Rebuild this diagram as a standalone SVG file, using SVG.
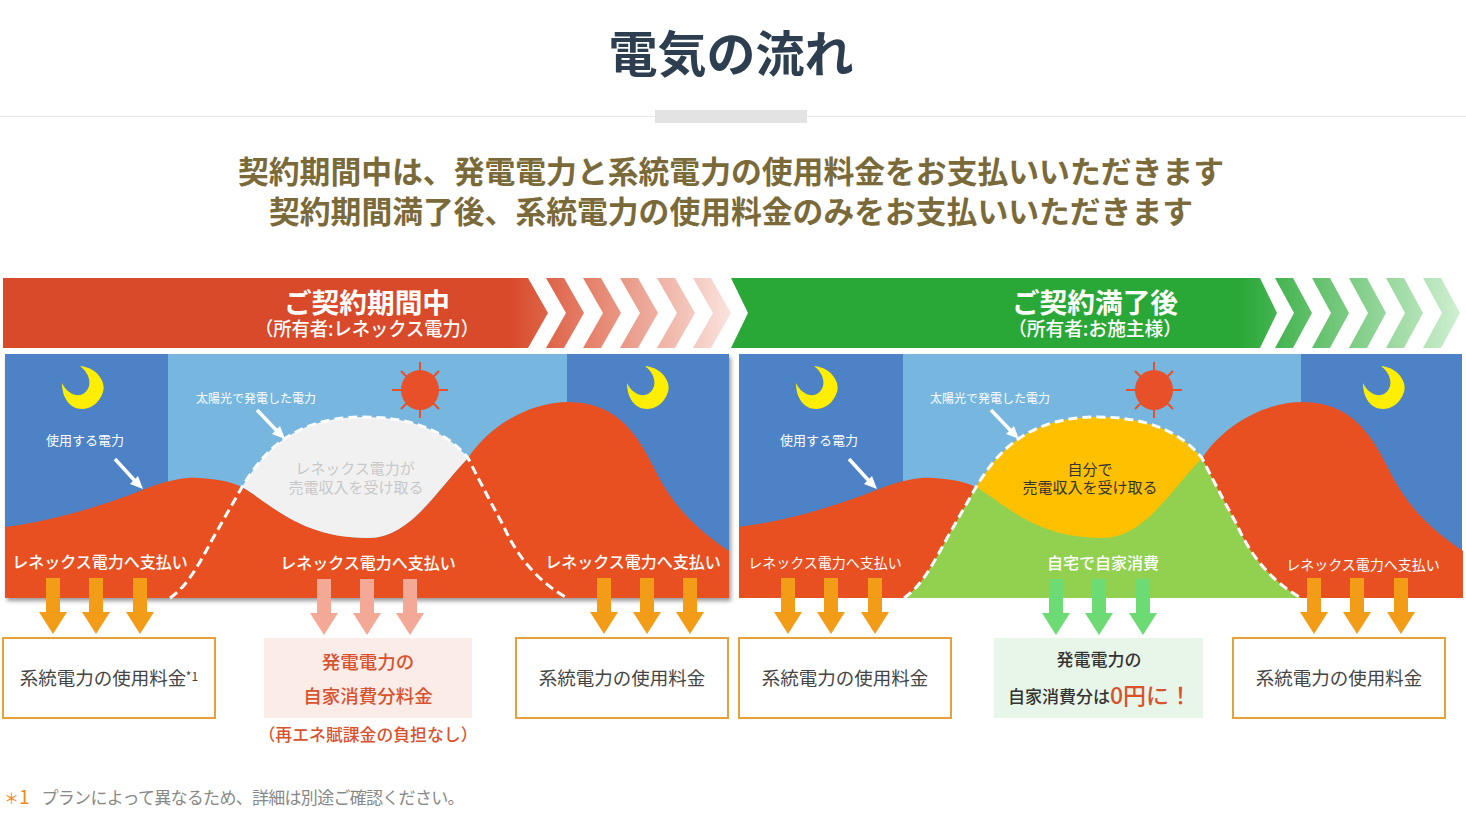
<svg xmlns="http://www.w3.org/2000/svg" width="1466" height="819" viewBox="0 0 1466 819">
<style>
text{font-family:"Noto Sans CJK JP","Noto Sans",sans-serif;text-anchor:middle}
.pay{fill:#fff;font-size:16px;font-weight:500}
.pay2{fill:#fff;font-size:14px}
.lab{fill:#fff;font-size:12px}
.lab2{fill:#fff;font-size:13px}
.fee{fill:#444;font-size:18.5px}
.box{fill:#fff;stroke:#e5a13c;stroke-width:2}
.dash{fill:none;stroke:#fff;stroke-width:3;stroke-dasharray:9 5}
.ban1{fill:#fff;font-size:27.7px;font-weight:700}
.ban2{fill:#fff;font-size:19px;font-weight:500}
</style>
<defs>
<linearGradient id="gr" gradientUnits="userSpaceOnUse" x1="510" y1="0" x2="735" y2="0"><stop offset="0" stop-color="#d94a2a"/><stop offset="1" stop-color="#fae6e1"/></linearGradient>
<linearGradient id="gg" gradientUnits="userSpaceOnUse" x1="1240" y1="0" x2="1462" y2="0"><stop offset="0" stop-color="#2aa837"/><stop offset="1" stop-color="#d0f0d2"/></linearGradient>
<filter id="sh" x="-2%" y="-2%" width="104%" height="106%"><feDropShadow dx="2" dy="3" stdDeviation="2" flood-color="#000" flood-opacity=".4"/></filter>
<path id="moon" d="M80 366C100 368 106 385 103 392C99 404 90 409 82 409C70 409 62 398 62 383C66 392 74 396 80 395C90 393 95 378 80 366Z" fill="#ffee00"/>
<g id="sun" stroke="#e8502a" stroke-width="2"><path d="M420 362V418M392 390H448M401 371L439 409M439 371L401 409" fill="none"/><ellipse cx="420" cy="390" rx="19" ry="20" fill="#e8502a" stroke="none"/></g>
<path id="red" d="M5 527C60 520 110 503 150 487C175 478 190 477 199 478C218 479 232 482 242 487C270 503 300 538 368 538C410 538 435 492 468 458C490 425 530 402 569 402C620 402 640 440 655 470C670 500 690 525 729 551V598H5Z" fill="#e85022"/>
<path id="dome" d="M242 487C258 462 285 417 363 417C410 417 445 430 468 458C435 492 410 538 368 538C300 538 270 503 242 487Z"/>
<path id="bell" d="M170 598C188 586 200 562 212 540C222 522 232 505 242 487C258 462 285 417 363 417C410 417 445 430 468 458C483 488 495 510 504 527C515 552 535 580 567 598"/>
<g id="w1"><path d="M115 459L136 482" stroke="#fff" stroke-width="3.5" fill="none"/><path d="M143 489L130 484L138 476Z" fill="#fff"/></g>
<g id="w2"><path d="M257 410L278 432" stroke="#fff" stroke-width="3.5" fill="none"/><path d="M285 439L272 434L280 426Z" fill="#fff"/></g>
<path id="ar" d="M-7 578H7V612H14L0 634L-14 612H-7Z"/>
</defs>
<rect width="1466" height="819" fill="#fff"/>
<g id="header">
<text x="731" y="72" font-size="49" font-weight="700" fill="#2c3e50" textLength="245" lengthAdjust="spacingAndGlyphs">電気の流れ</text>
<rect x="0" y="116" width="1466" height="1" fill="#e6e6e6"/>
<rect x="655" y="110" width="152" height="13" fill="#e3e3e3"/>
<g font-size="31" font-weight="700" fill="#7a6a3a">
<text x="731" y="183" textLength="986" lengthAdjust="spacingAndGlyphs">契約期間中は、発電電力と系統電力の使用料金をお支払いいただきます</text>
<text x="731" y="223" textLength="924" lengthAdjust="spacingAndGlyphs">契約期間満了後、系統電力の使用料金のみをお支払いいただきます</text>
</g>
</g>
<g id="banner-before">
<path d="M3 278H528L548 313L528 348H3Z" fill="url(#gr)"/>
<g fill="url(#gr)">
<path d="M546 278H564L584 313L564 348H546L566 313Z"/>
<path d="M583 278H601L621 313L601 348H583L603 313Z"/>
<path d="M620 278H638L658 313L638 348H620L640 313Z"/>
<path d="M657 278H675L695 313L675 348H657L677 313Z"/>
<path d="M693 278H711L731 313L711 348H693L713 313Z"/>
</g>
<text class="ban1" x="367" y="313">ご契約期間中</text>
<text class="ban2" x="367" y="336" textLength="224" lengthAdjust="spacingAndGlyphs">（所有者:レネックス電力）</text>
</g>
<g id="banner-after">
<path d="M731 278H1260L1277 313L1260 348H731L748 313Z" fill="url(#gg)"/>
<g fill="url(#gg)">
<path d="M1275 278H1293L1312 313L1293 348H1275L1294 313Z"/>
<path d="M1312 278H1330L1349 313L1330 348H1312L1331 313Z"/>
<path d="M1349 278H1367L1386 313L1367 348H1349L1368 313Z"/>
<path d="M1386 278H1404L1423 313L1404 348H1386L1405 313Z"/>
<path d="M1423 278H1441L1460 313L1441 348H1423L1442 313Z"/>
</g>
<text class="ban1" x="1095" y="313">ご契約満了後</text>
<text class="ban2" x="1095" y="336" textLength="174" lengthAdjust="spacingAndGlyphs">（所有者:お施主様）</text>
</g>
<g id="panel-before">
<g filter="url(#sh)"><rect x="5" y="354" width="724" height="244" fill="#4d82c6"/></g>
<rect x="168" y="354" width="399" height="244" fill="#76b6df"/>
<use href="#red"/>
<use href="#dome" fill="#f1f1f1"/>
<use href="#bell" class="dash"/>
<use href="#moon"/>
<use href="#moon" x="565"/>
<use href="#sun"/>
<use href="#w1"/>
<use href="#w2"/>
<text class="lab2" x="85" y="445">使用する電力</text>
<text class="lab" x="256" y="403">太陽光で発電した電力</text>
<g font-size="15" fill="#c8c8c8"><text x="355" y="474">レネックス電力が</text><text x="356" y="493">売電収入を受け取る</text></g>
<text class="pay" x="100" y="568">レネックス電力へ支払い</text>
<text class="pay" x="368" y="569">レネックス電力へ支払い</text>
<text class="pay" x="633" y="568">レネックス電力へ支払い</text>
</g>
<g id="panel-after">
<rect x="739" y="354" width="723" height="244" fill="#4d82c6"/>
<rect x="903" y="354" width="398" height="244" fill="#76b6df"/>
<g transform="translate(734 0)">
<use href="#red"/>
<path d="M170 598C188 586 200 562 212 540C222 522 232 505 242 487L468 458C483 488 495 510 504 527C515 552 535 580 567 598Z" fill="#92d14f"/>
<use href="#dome" fill="#ffc000"/>
<use href="#bell" class="dash"/>
<use href="#moon"/>
<use href="#moon" x="567"/>
<use href="#sun"/>
<use href="#w1"/>
<use href="#w2"/>
</g>
<text class="lab2" x="819" y="445">使用する電力</text>
<text class="lab" x="990" y="403">太陽光で発電した電力</text>
<g font-size="15" fill="#333"><text x="1090" y="475">自分で</text><text x="1090" y="493">売電収入を受け取る</text></g>
<text class="pay2" x="825" y="568">レネックス電力へ支払い</text>
<text class="pay" x="1103" y="569">自宅で自家消費</text>
<text class="pay2" x="1363" y="570">レネックス電力へ支払い</text>
</g>
<g id="connectors">
<g fill="#f39c18">
<use href="#ar" x="53"/><use href="#ar" x="96"/><use href="#ar" x="140"/>
<use href="#ar" x="604"/><use href="#ar" x="647"/><use href="#ar" x="690"/>
<use href="#ar" x="788"/><use href="#ar" x="831"/><use href="#ar" x="875"/>
<use href="#ar" x="1314"/><use href="#ar" x="1357"/><use href="#ar" x="1401"/>
</g>
<g fill="#f4a896"><use href="#ar" x="324" y="1"/><use href="#ar" x="367" y="1"/><use href="#ar" x="410" y="1"/></g>
<g fill="#6cdb74"><use href="#ar" x="1056" y="1"/><use href="#ar" x="1099" y="1"/><use href="#ar" x="1143" y="1"/></g>
</g>
<g id="fee-1"><rect class="box" x="3" y="638" width="212" height="80"/><text class="fee" x="103" y="685">系統電力の使用料金</text><text x="192" y="681" font-size="12" fill="#444">*1</text></g>
<g id="fee-2"><rect x="264" y="638" width="208" height="80" fill="#fbece8"/>
<g fill="#d9522e" font-size="18.5" font-weight="500"><text x="368" y="669">発電電力の</text><text x="368" y="703">自家消費分料金</text></g>
<text x="368" y="741" fill="#d9522e" font-size="16.5" font-weight="500" textLength="219" lengthAdjust="spacingAndGlyphs">（再エネ賦課金の負担なし）</text></g>
<g id="fee-3"><rect class="box" x="516" y="638" width="212" height="80"/><text class="fee" x="622" y="685">系統電力の使用料金</text></g>
<g id="fee-4"><rect class="box" x="739" y="638" width="212" height="80"/><text class="fee" x="845" y="685">系統電力の使用料金</text></g>
<g id="fee-5"><rect x="994" y="638" width="209" height="80" fill="#e8f6e9"/>
<g fill="#333" font-size="17" font-weight="500"><text x="1099" y="666">発電電力の</text><text x="1059" y="703">自家消費分は</text></g>
<text x="1110" y="704" fill="#d9522e" font-size="23" font-weight="500" style="text-anchor:start">0円に！</text></g>
<g id="fee-6"><rect class="box" x="1233" y="638" width="212" height="80"/><text class="fee" x="1339" y="685">系統電力の使用料金</text></g>
<g id="footnote">
<text x="4" y="804" font-size="19" fill="#ee8a1d" style="text-anchor:start"><tspan font-size="15">＊</tspan>1</text>
<text x="253" y="804" font-size="17" fill="#888" textLength="423" lengthAdjust="spacing">プランによって異なるため、詳細は別途ご確認ください。</text>
</g>
</svg>
